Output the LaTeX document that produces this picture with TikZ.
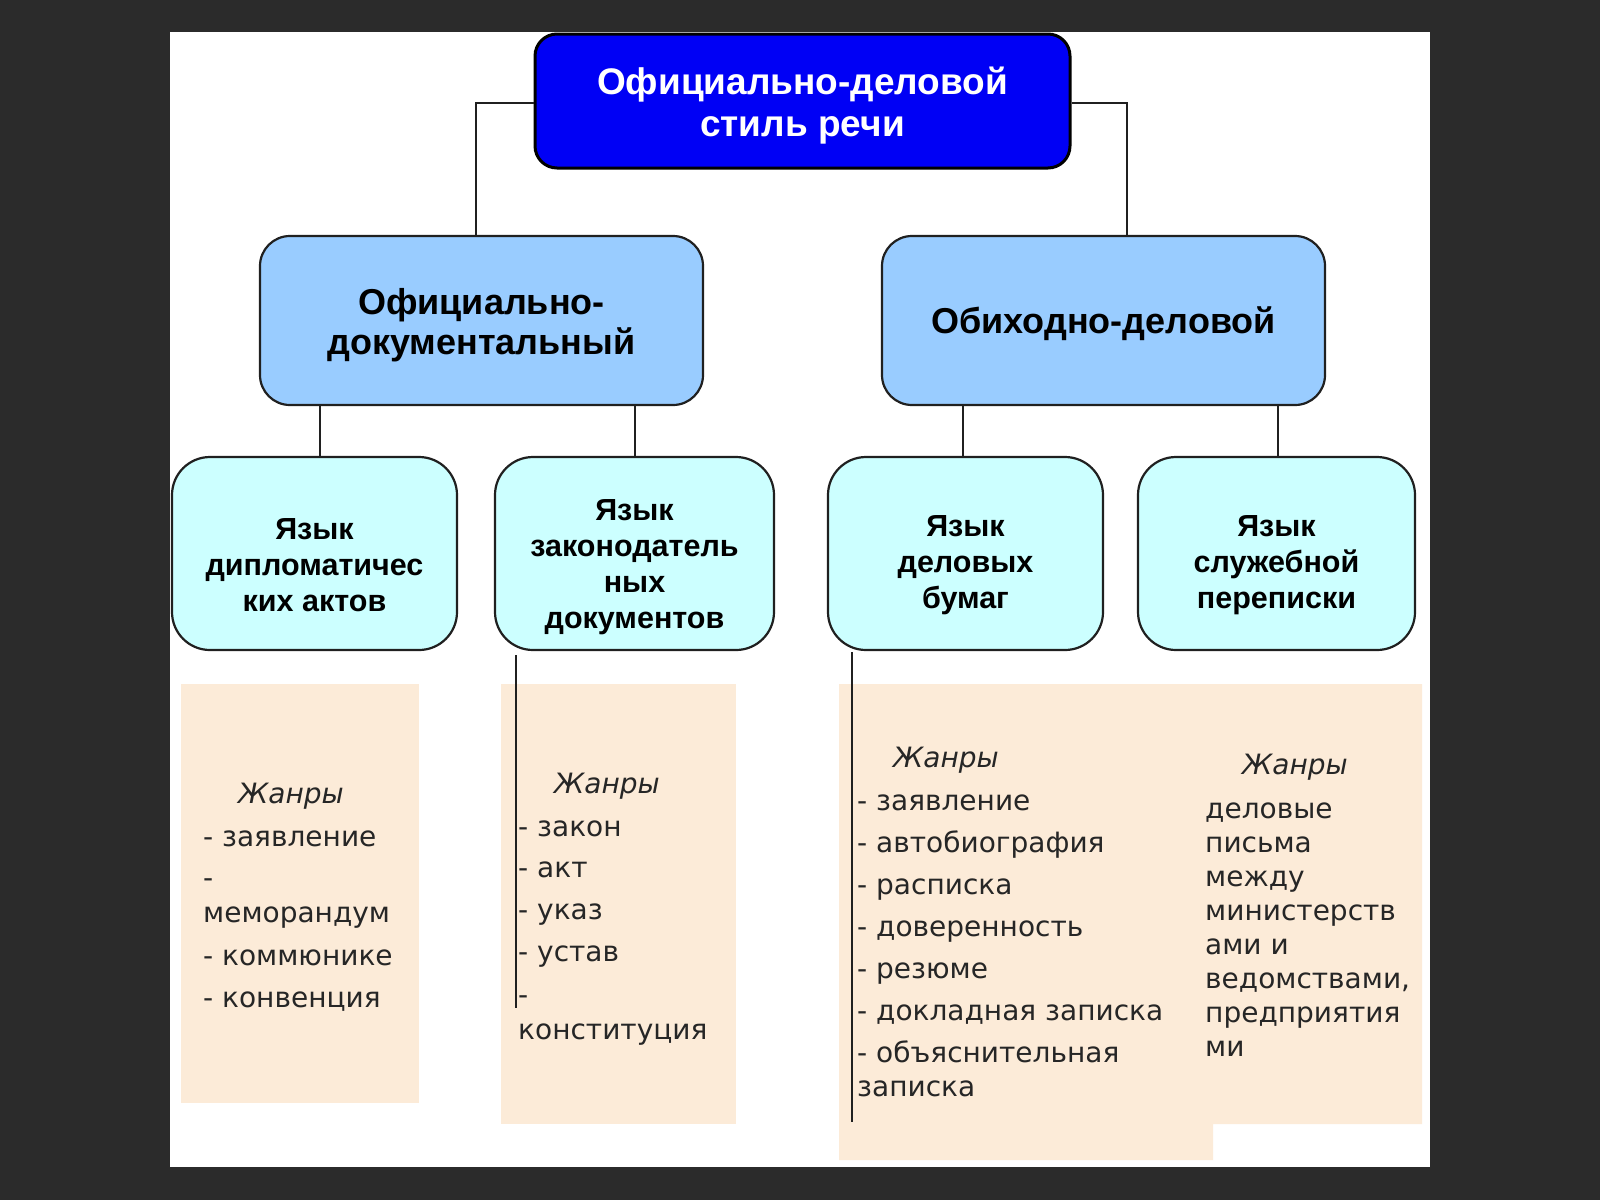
\documentclass[tikz,border=0pt]{standalone}
\usepackage{fontspec}
\newfontfamily\hfont{Liberation Sans}
\newfontfamily\gfont{DejaVu Sans}
\definecolor{bgdark}{HTML}{2B2B2B}
\definecolor{topblue}{HTML}{0000F5}
\definecolor{midblue}{HTML}{99CCFF}
\definecolor{lowcyan}{HTML}{CCFFFF}
\definecolor{beige}{HTML}{FCEBD8}
\definecolor{ink}{HTML}{202020}
\definecolor{txt}{HTML}{262626}
\begin{document}
\begin{tikzpicture}[x=1pt,y=-1pt,
  box/.style={draw=ink, line width=2.2pt, inner sep=0pt},
  topbox/.style={box, draw=black, line width=3pt, fill=topblue,
    rounded corners=22pt, minimum width=535pt, minimum height=134pt},
  toptext/.style={inner sep=0pt, align=center, text=white,
    font=\hfont\bfseries\fontsize{37pt}{42pt}\selectfont},
  midbox/.style={box, fill=midblue, rounded corners=30pt,
    minimum width=443pt, minimum height=169pt},
  midtext/.style={inner sep=0pt, align=center,
    font=\hfont\bfseries\fontsize{36pt}{39.5pt}\selectfont},
  lowbox/.style={box, fill=lowcyan, rounded corners=38pt,
    minimum height=193pt},
  lowtext/.style={inner sep=0pt, align=center,
    font=\hfont\bfseries\fontsize{30.5pt}{36pt}\selectfont},
  conn/.style={draw=ink, line width=2pt},
  gtext/.style={anchor=base west, inner sep=0pt, text=txt,
    font=\gfont\fontsize{28pt}{34pt}\selectfont},
  gtitle/.style={gtext, font=\gfont\itshape\fontsize{28pt}{34pt}\selectfont}
]
\useasboundingbox (0,0) rectangle (1600,1200);
\fill[bgdark] (0,0) rectangle (1600,1200);
\fill[white] (170,32) rectangle (1430,1167);

% beige genre panels
\fill[beige] (181,684) rectangle (419,1103);
\fill[beige] (501,684) rectangle (736,1124);
\fill[beige] (839,684) -- (1422,684) -- (1422,1124) -- (1213,1124)
  -- (1213,1160) -- (839,1160) -- cycle;

% boxes
\node[topbox] (top) at (802.5,101) {};
\node[toptext, yshift=-5pt] (toplbl) at (top.center) {Официально-деловой\\стиль речи};
\node[midbox] (odoc) at (481.5,320.5) {};
\node[midtext, yshift=-4.5pt] (odoclbl) at (odoc.center) {Официально-\\документальный};
\node[midbox] (obih) at (1103.5,320.5) {};
\node[midtext, yshift=-3pt] (obihlbl) at (obih.center) {Обиходно-деловой};
\node[lowbox, minimum width=285pt] (b1) at (314.5,553.5) {};
\node[lowbox, minimum width=279pt] (b2) at (634.5,553.5) {};
\node[lowbox, minimum width=275pt] (b3) at (965.5,553.5) {};
\node[lowbox, minimum width=277pt] (b4) at (1276.5,553.5) {};
\node[lowtext, yshift=-12pt] (b1lbl) at (b1.center) {Язык\\дипломатичес\\ких актов};
\node[lowtext, yshift=-14pt] (b2lbl) at (b2.center) {Язык\\законодатель\\ных\\документов};
\node[lowtext, yshift=-12pt] (b3lbl) at (b3.center) {Язык\\деловых\\бумаг};
\node[lowtext, yshift=-12pt] (b4lbl) at (b4.center) {Язык\\служебной\\переписки};

% connectors
\coordinate (jl) at (476,103);
\coordinate (jr) at (1127,103);
\draw[conn] (jl -| top.west) -- (jl) -- (jl |- odoc.north);
\draw[conn] (jr -| top.east) -- (jr) -- (jr |- obih.north);
\coordinate (c1) at (320,0);
\coordinate (c2) at (635,0);
\coordinate (c3) at (963,0);
\coordinate (c4) at (1278,0);
\draw[conn] (c1 |- odoc.south) -- (c1 |- b1.north);
\draw[conn] (c2 |- odoc.south) -- (c2 |- b2.north);
\draw[conn] (c3 |- obih.south) -- (c3 |- b3.north);
\draw[conn] (c4 |- obih.south) -- (c4 |- b4.north);
\coordinate (s2) at (516,655);
\coordinate (e2) at (516,1008);
\coordinate (s3) at (852,652);
\coordinate (e3) at (852,1122);
\draw[conn] (s2) -- (e2);
\draw[conn] (s3) -- (e3);

% genre texts
\node[gtitle] (g1t) at (238,803) {Жанры};
\foreach \yy/\t [count=\i] in {846/{- заявление}, 887/{-}, 922/{меморандум},
  965/{- коммюнике}, 1007/{- конвенция}}
  \node[gtext] (g1l\i) at (203,\yy) {\t};

\node[gtitle] (g2t) at (554,793) {Жанры};
\foreach \yy/\t [count=\i] in {836/{- закон}, 877/{- акт}, 919/{- указ},
  961/{- устав}, 1004/{-}, 1039/{конституция}}
  \node[gtext] (g2l\i) at (518,\yy) {\t};

\node[gtitle] (g3t) at (893,767) {Жанры};
\foreach \yy/\t [count=\i] in {810/{- заявление}, 852/{- автобиография},
  894/{- расписка}, 936/{- доверенность}, 978/{- резюме},
  1020/{- докладная записка}, 1062/{- объяснительная}, 1096/{записка}}
  \node[gtext] (g3l\i) at (857,\yy) {\t};

\node[gtitle] (g4t) at (1242,774) {Жанры};
\foreach \yy/\t [count=\i] in {818/{деловые}, 852/{письма}, 886/{между},
  920/{министерств}, 954/{ами и}, 988/{ведомствами,}, 1022/{предприятия}, 1056/{ми}}
  \node[gtext] (g4l\i) at (1205,\yy) {\t};
\end{tikzpicture}
\end{document}
